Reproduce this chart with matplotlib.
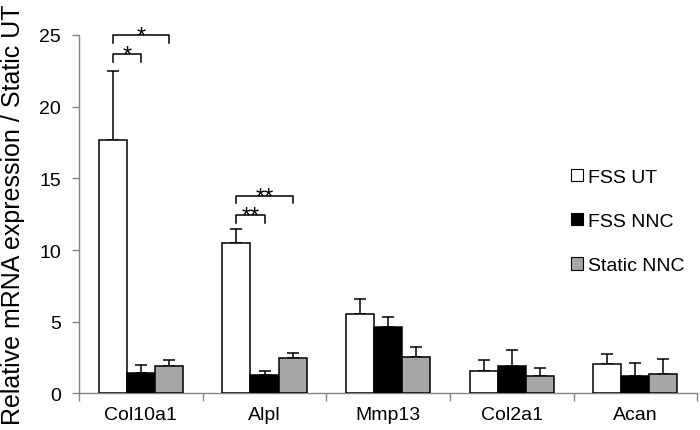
import numpy as np
import matplotlib
matplotlib.use("Agg")
import matplotlib.pyplot as plt
from matplotlib.patches import Patch

plt.rcParams["font.family"] = ["Liberation Sans", "DejaVu Sans"]

# ---- data ----
genes = ["Col10a1", "Alpl", "Mmp13", "Col2a1", "Acan"]
groups = ["FSS UT", "FSS NNC", "Static NNC"]

fss_ut = [17.7, 10.47, 5.53, 1.53, 2.02]
fss_ut_err = [4.8, 1.03, 1.05, 0.82, 0.70]
fss_nnc = [1.45, 1.28, 4.65, 1.93, 1.19]
fss_nnc_err = [0.55, 0.30, 0.70, 1.09, 0.92]
static_nnc = [1.90, 2.44, 2.51, 1.23, 1.35]
static_nnc_err = [0.40, 0.37, 0.70, 0.51, 1.06]

# significance brackets: (gene index, bar from, bar to, height, label)
sig_gene = [0, 0, 1, 1]
sig_from = [0, 0, 0, 0]
sig_to = [1, 2, 1, 2]
sig_y = [23.7, 25.0, 12.44, 13.8]
sig_lab = ["*", "*", "**", "**"]

colors = ["white", "black", "#a6a6a6"]
series = [fss_ut, fss_nnc, static_nnc]
errs = [fss_ut_err, fss_nnc_err, static_nnc_err]

# ---- figure ----
fig = plt.figure(figsize=(7, 4.31), dpi=100)
ax = fig.add_axes([0.113, 0.085, 0.883, 0.8315])

x = np.arange(len(genes))
w = 0.227
for i, (vals, err, col) in enumerate(zip(series, errs, colors)):
    pos = x + (i - 1) * w
    ax.bar(pos, vals, width=w, color=col, edgecolor="black", linewidth=1.1,
           label=groups[i], zorder=3)
    ax.errorbar(pos, vals, yerr=[np.zeros(len(vals)), err], fmt="none",
                ecolor="black", elinewidth=1.1, capsize=4, capthick=1.1,
                zorder=2)

# brackets
leg = 0.55
for g, a, b, y, lab in zip(sig_gene, sig_from, sig_to, sig_y, sig_lab):
    x1 = g + (a - 1) * w
    x2 = g + (b - 1) * w
    ax.plot([x1, x1, x2, x2], [y - leg, y, y, y - leg], color="black",
            lw=1.1, clip_on=False, zorder=4)
    ax.text((x1 + x2) / 2, y - 0.55, lab, ha="center", va="baseline",
            fontsize=17, clip_on=False)

ax.set_xlim(-0.5, 4.5)
ax.set_ylim(0, 25)
ax.set_yticks(np.arange(0, 26, 5))
ax.set_xticks(x)
ax.set_xticklabels(genes)
ax.set_xticks(np.arange(-0.5, 4.6, 1), minor=True)
ax.tick_params(axis="x", which="major", length=0, pad=9, labelsize=14)
ax.tick_params(axis="x", which="minor", length=6, width=1, color="#868686",
               direction="out")
ax.tick_params(axis="y", length=5, width=1, color="#868686", pad=8,
               labelsize=14)

for s in ["top", "right"]:
    ax.spines[s].set_visible(False)
for s in ["left", "bottom"]:
    ax.spines[s].set_color("#868686")
    ax.spines[s].set_linewidth(1)

ax.set_ylabel("Relative mRNA expression / Static UT", fontsize=18)
ax.yaxis.set_label_coords(-0.088, 0.50)

handles = [Patch(facecolor=c, edgecolor="black", linewidth=0.8) for c in colors]
fig.legend(handles, groups, loc="upper left", bbox_to_anchor=(0.816, 0.606),
           frameon=False, fontsize=14, handlelength=0.6, handleheight=0.6,
           handletextpad=0.25, labelspacing=1.4, borderpad=0,
           borderaxespad=0)

fig.savefig("out.png", dpi=100)
